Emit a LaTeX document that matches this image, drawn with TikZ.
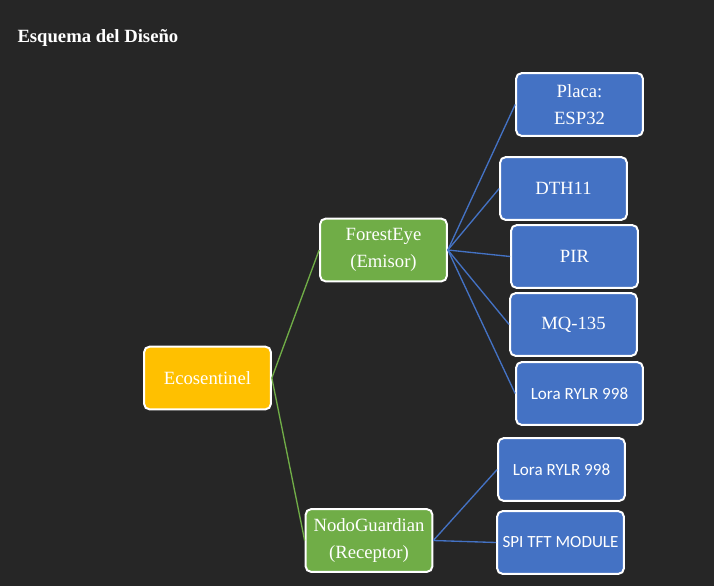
\documentclass[tikz,border=0pt]{standalone}
\usepackage{fontspec}
\setmainfont{Liberation Serif}
\newfontfamily\boxsans{Carlito}
\definecolor{bgdark}{RGB}{38,38,38}
\definecolor{ecoyellow}{RGB}{255,192,0}
\definecolor{nodegreen}{RGB}{112,173,71}
\definecolor{partblue}{RGB}{68,114,196}
\tikzset{every picture/.style={line width=0.75pt}}
\tikzset{
  treebox/.style={draw=white, line width=1.5pt, rounded corners=4pt, text=white,
    minimum width=95pt, minimum height=47pt, inner sep=1pt, align=center,
    font=\fontsize{14}{20}\selectfont},
  rootbox/.style={treebox, fill=ecoyellow},
  midbox/.style={treebox, fill=nodegreen},
  partbox/.style={treebox, fill=partblue},
  sansbox/.style={partbox, font=\boxsans\fontsize{12.8}{15}\selectfont},
  greenlink/.style={draw=nodegreen, line width=1pt},
  bluelink/.style={draw=partblue, line width=1pt}
}

\begin{document}
\begin{tikzpicture}[x=0.75pt,y=0.75pt,yscale=-1,xscale=1]
\fill[bgdark] (0,0) rectangle (714,586);
\useasboundingbox (0,0) rectangle (714,586);

% Title
\node (title) [anchor=west, text=white, inner sep=0pt, font=\bfseries\fontsize{14}{17}\selectfont] at (17,38) {Esquema del Diseño};

% Root
\node (eco) [rootbox] at (207.5,378) {Ecosentinel};
% Level 1
\node (forest) [midbox] at (383.5,250) {ForestEye\\(Emisor)};
\node (guardian) [midbox] at (369,540.5) {NodoGuardian\\(Receptor)};
% ForestEye parts
\node (esp) [partbox] at (579.5,104.5) {Placa:\\ESP32};
\node (dth) [partbox] at (563.5,188.5) {DTH11};
\node (pir) [partbox] at (574.5,256.5) {PIR};
\node (mq) [partbox] at (573.5,324.5) {MQ-135};
\node (loraA) [sansbox] at (579.5,393.5) {Lora RYLR 998};
% NodoGuardian parts
\node (loraB) [sansbox] at (561.5,469.5) {Lora RYLR 998};
\node (spi) [sansbox] at (560.5,542.5) {SPI TFT MODULE};

% Links
\draw [greenlink] (eco.east) -- (forest.west);
\draw [greenlink] (eco.east) -- (guardian.west);
\foreach \part in {esp,dth,pir,mq,loraA}
  \draw [bluelink] (forest.east) -- (\part.west);
\foreach \part in {loraB,spi}
  \draw [bluelink] (guardian.east) -- (\part.west);

\end{tikzpicture}
\end{document}
